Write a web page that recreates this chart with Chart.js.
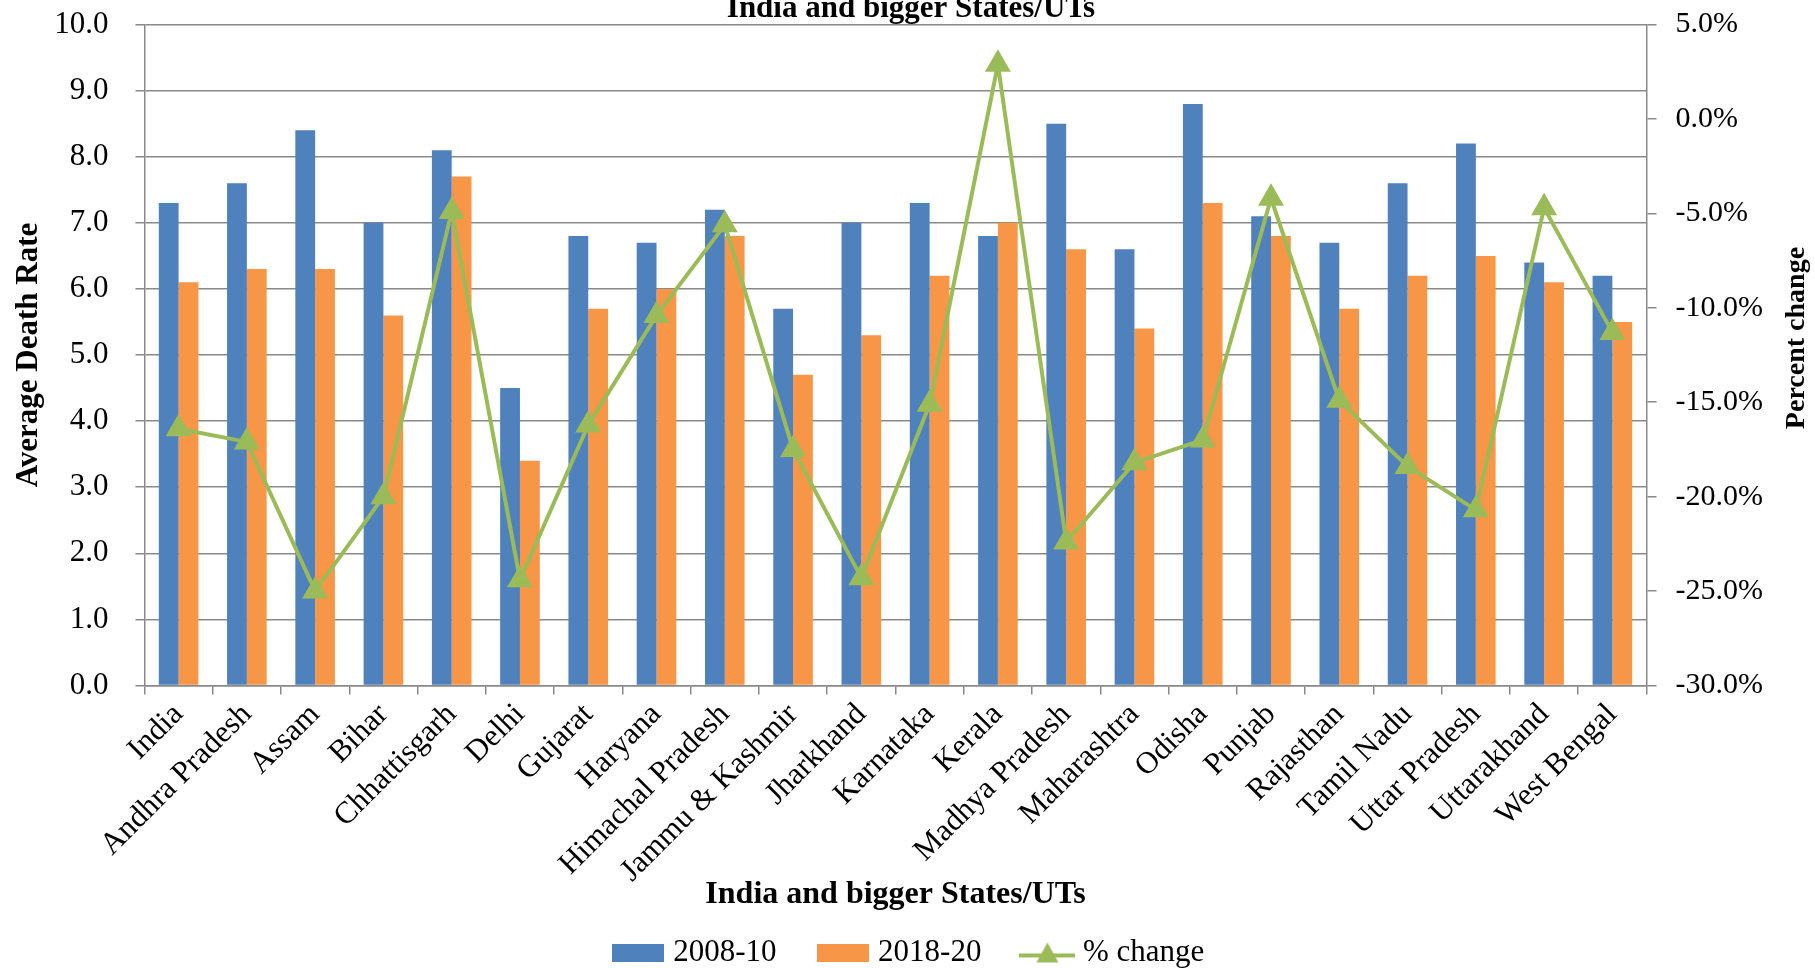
<!DOCTYPE html>
<html>
<head>
<meta charset="utf-8">
<script src="https://cdn.jsdelivr.net/npm/chart.js@4"></script>
<style>
  html, body { margin: 0; padding: 0; background: #fff; overflow: hidden; }
  #wrap { position: relative; width: 1815px; height: 968px; overflow: hidden; }
  #wrap canvas { position: absolute; left: 0; top: -21px; }
</style>
</head>
<body>
<div id="wrap"><canvas id="deathRateChart" width="1815" height="999"></canvas></div>
<script>
const categories = ['India', 'Andhra Pradesh', 'Assam', 'Bihar', 'Chhattisgarh', 'Delhi', 'Gujarat',
  'Haryana', 'Himachal Pradesh', 'Jammu & Kashmir', 'Jharkhand', 'Karnataka', 'Kerala',
  'Madhya Pradesh', 'Maharashtra', 'Odisha', 'Punjab', 'Rajasthan', 'Tamil Nadu',
  'Uttar Pradesh', 'Uttarakhand', 'West Bengal'];
const rate2008_10 = [7.3, 7.6, 8.4, 7.0, 8.1, 4.5, 6.8, 6.7, 7.2, 5.7, 7.0, 7.3, 6.8, 8.5, 6.6, 8.8, 7.1, 6.7, 7.6, 8.2, 6.4, 6.2];
const rate2018_20 = [6.1, 6.3, 6.3, 5.6, 7.7, 3.4, 5.7, 6.0, 6.8, 4.7, 5.3, 6.2, 7.0, 6.6, 5.4, 7.3, 6.8, 5.7, 6.2, 6.5, 6.1, 5.5];
const pctChange = [-16.4, -17.1, -25.0, -20.0, -4.9, -24.4, -16.2, -10.4, -5.6, -17.5, -24.3, -15.1, 2.9, -22.4, -18.2, -17.0, -4.2, -14.9, -18.4, -20.7, -4.7, -11.3];

const serif = 'Liberation Serif';
const gridGrey = '#898989';
const blue = '#4F81BD';
const orange = '#F79646';
const green = '#9BBB59';

// legend swatches drawn once on small canvases
function rectSwatch(color) {
  const c = document.createElement('canvas');
  c.width = 52;
  c.height = 18;
  const g = c.getContext('2d');
  g.fillStyle = color;
  g.fillRect(0, 0, 52, 18);
  return c;
}
function lineSwatch(color) {
  const c = document.createElement('canvas');
  c.width = 56;
  c.height = 26;
  const g = c.getContext('2d');
  g.strokeStyle = color;
  g.lineWidth = 4;
  g.beginPath();
  g.moveTo(0, 16);
  g.lineTo(56, 16);
  g.stroke();
  g.fillStyle = color;
  g.beginPath();
  g.moveTo(28, 3);
  g.lineTo(39, 23);
  g.lineTo(17, 23);
  g.closePath();
  g.fill();
  return c;
}
const swatches = [lineSwatch(green), rectSwatch(blue), rectSwatch(orange)];

// right-hand axis title reads bottom to top, like the left one
const rightTitle = {
  id: 'rightTitle',
  afterDraw(chart) {
    const c = chart.ctx;
    const area = chart.chartArea;
    c.save();
    c.translate(chart.width - 18, (area.top + area.bottom) / 2 - 17);
    c.rotate(-Math.PI / 2);
    c.font = 'bold 28px "' + serif + '"';
    c.fillStyle = '#000';
    c.textAlign = 'center';
    c.textBaseline = 'middle';
    c.fillText('Percent change', 0, 0);
    c.restore();
  }
};

const ctx = document.getElementById('deathRateChart').getContext('2d');
const deathRateChart = new Chart(ctx, {
  data: {
    labels: categories,
    datasets: [{
      type: 'line',
      label: '% change',
      data: pctChange,
      yAxisID: 'y1',
      borderColor: green,
      backgroundColor: green,
      borderWidth: 4,
      pointStyle: 'triangle',
      pointRadius: 11,
      pointHoverRadius: 11,
      pointBackgroundColor: green,
      pointBorderColor: green,
      tension: 0,
      order: 0
    }, {
      type: 'bar',
      label: '2008-10',
      data: rate2008_10,
      yAxisID: 'y',
      backgroundColor: blue,
      barPercentage: 1,
      categoryPercentage: 0.58,
      order: 1
    }, {
      type: 'bar',
      label: '2018-20',
      data: rate2018_20,
      yAxisID: 'y',
      backgroundColor: orange,
      barPercentage: 1,
      categoryPercentage: 0.58,
      order: 1
    }]
  },
  options: {
    responsive: false,
    animation: false,
    layout: { padding: { left: 40, right: 33, top: 0, bottom: 0 } },
    plugins: {
      title: {
        display: true,
        text: 'India and bigger States/UTs',
        color: '#000',
        font: { family: serif, size: 31, weight: 'bold' },
        padding: { top: 0, bottom: -3 }
      },
      legend: {
        position: 'bottom',
        labels: {
          color: '#000',
          font: { family: serif, size: 31 },
          usePointStyle: true,
          pointStyleWidth: 40,
          boxHeight: 17,
          padding: 46,
          generateLabels(chart) {
            return [1, 2, 0].map(i => ({
              text: chart.data.datasets[i].label,
              datasetIndex: i,
              fontColor: '#000',
              lineWidth: 0,
              pointStyle: swatches[i],
              hidden: false
            }));
          }
        }
      },
      tooltip: { enabled: false }
    },
    scales: {
      x: {
        grid: { display: true, drawOnChartArea: false, offset: true, color: gridGrey, lineWidth: 1.5, tickLength: 9 },
        border: { color: gridGrey, width: 1.5 },
        ticks: {
          color: '#000',
          font: { family: serif, size: 31 },
          autoSkip: false,
          minRotation: 45,
          maxRotation: 45,
          padding: 2
        },
        title: {
          display: true,
          text: 'India and bigger States/UTs',
          color: '#000',
          font: { family: serif, size: 32, weight: 'bold' },
          padding: { top: -16, bottom: -23 }
        }
      },
      y: {
        position: 'left',
        min: 0,
        max: 10,
        grid: { color: gridGrey, lineWidth: 1.5, tickLength: 9 },
        border: { color: gridGrey, width: 1.5 },
        ticks: {
          stepSize: 1,
          color: '#000',
          font: { family: serif, size: 31 },
          padding: 27,
          callback: v => v.toFixed(1)
        },
        title: {
          display: true,
          text: 'Average Death Rate',
          color: '#000',
          font: { family: serif, size: 31, weight: 'bold' },
          padding: { top: -30, bottom: -20 }
        }
      },
      y1: {
        position: 'right',
        min: -30,
        max: 5,
        grid: { drawOnChartArea: false, color: gridGrey, lineWidth: 1.5, tickLength: 10 },
        border: { color: gridGrey, width: 1.5 },
        ticks: {
          stepSize: 5,
          color: '#000',
          font: { family: serif, size: 30 },
          padding: 19,
          callback: v => v.toFixed(1) + '%'
        }
      }
    }
  },
  plugins: [rightTitle]
});
</script>
</body>
</html>
